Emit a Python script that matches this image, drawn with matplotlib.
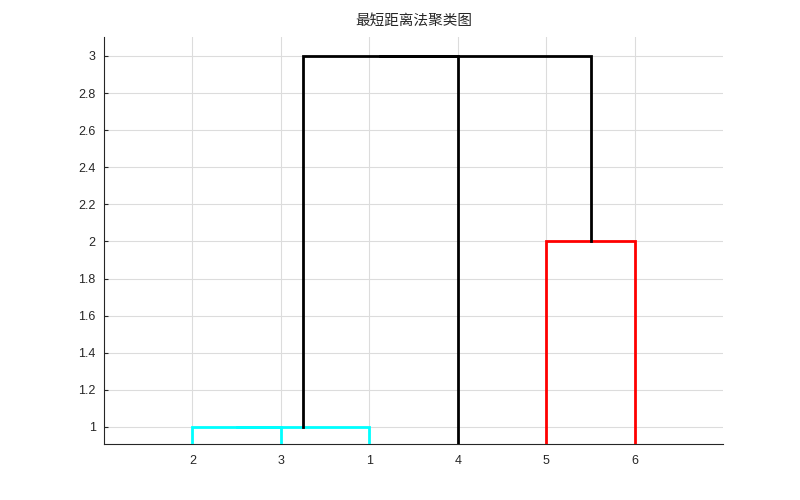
import matplotlib
matplotlib.use("Agg")
import matplotlib.pyplot as plt

plt.rcParams['font.family'] = ['Noto Sans CJK SC', 'DejaVu Sans']

# Dendrogram data (MATLAB-style linkage, leaves 1..6, new clusters 7..)
leaf_order = [2, 3, 1, 4, 5, 6]
link_a = [2, 1, 5, 8, 10]
link_b = [3, 7, 6, 4, 9]
link_height = [1, 1, 2, 3, 3]
link_color = ['#00FFFF', '#00FFFF', '#FF0000', '#000000', '#000000']
title_text = '最短距离法聚类图'
y_ticks = [1, 1.2, 1.4, 1.6, 1.8, 2, 2.2, 2.4, 2.6, 2.8, 3]
y_tick_labels = ['1', '1.2', '1.4', '1.6', '1.8', '2', '2.2', '2.4', '2.6', '2.8', '3']

fig = plt.figure(figsize=(8, 5), dpi=100)
ax = fig.add_axes([0.13, 0.112, 0.774, 0.814])

n = len(leaf_order)
xpos = {leaf: i + 1 for i, leaf in enumerate(leaf_order)}
hpos = {leaf: 0.0 for leaf in leaf_order}
for k, (a, b, h, c) in enumerate(zip(link_a, link_b, link_height, link_color)):
    xa, xb = xpos[a], xpos[b]
    ha, hb = hpos[a], hpos[b]
    ax.plot([xa, xa, xb, xb], [ha, h, h, hb], color=c, lw=2, solid_joinstyle='miter', zorder=3)
    new_id = n + k + 1
    xpos[new_id] = (xa + xb) / 2
    hpos[new_id] = h

ax.set_xlim(0, 7)
ax.set_ylim(0.908, 3.102)
ax.set_xticks(range(1, n + 1))
ax.set_xticklabels([str(l) for l in leaf_order], family='Liberation Sans')
ax.set_yticks(y_ticks)
ax.set_yticklabels(y_tick_labels, family='Liberation Sans')
ax.grid(True, color='#dcdcdc', lw=0.8)
ax.set_axisbelow(True)
for s in ['top', 'right']:
    ax.spines[s].set_visible(False)
for s in ['left', 'bottom']:
    ax.spines[s].set_color('#262626')
    ax.spines[s].set_linewidth(0.8)
ax.tick_params(axis='both', direction='in', colors='#262626', labelsize=9, length=3)
ax.tick_params(axis='x', length=0, pad=8)
ax.tick_params(axis='y', pad=6)
ax.set_title(title_text, fontsize=10.5, color='#262626', pad=9)

fig.savefig('out.png', dpi=100)
